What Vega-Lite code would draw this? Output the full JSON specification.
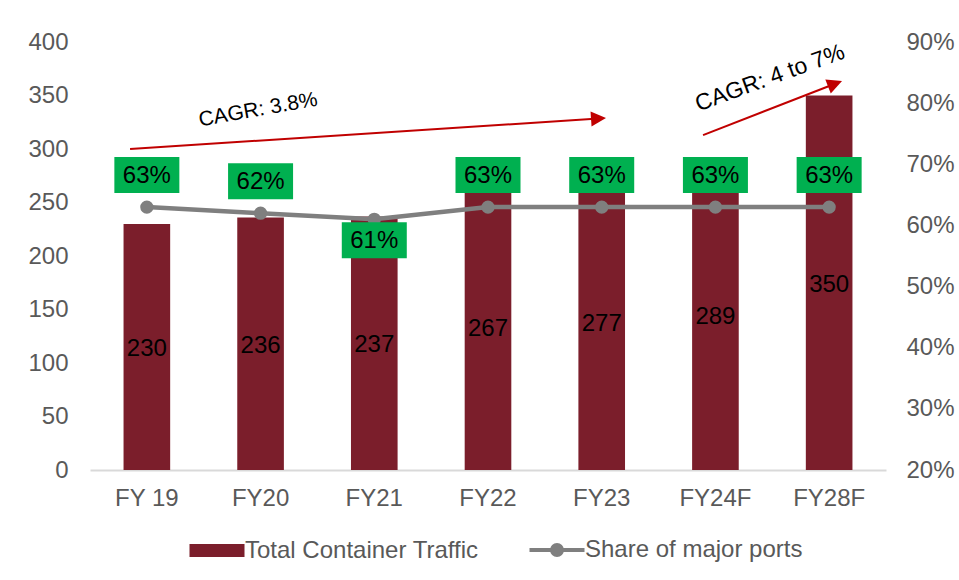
{
  "$schema": "https://vega.github.io/schema/vega-lite/v6.json",
  "width": 796,
  "height": 428,
  "autosize": {"type": "none"},
  "padding": {"left": 90, "top": 42, "right": 73, "bottom": 110},
  "background": "white",
  "config": {
    "font": "Liberation Sans",
    "view": {"stroke": null},
    "axis": {"grid": false, "ticks": false, "labelFontSize": 24, "labelColor": "#595959", "labelFont": "Liberation Sans"}
  },
  "datasets": {
    "main": [
      {"Year": "FY 19", "traffic": 230, "share": 0.63},
      {"Year": "FY20", "traffic": 236, "share": 0.62},
      {"Year": "FY21", "traffic": 237, "share": 0.61},
      {"Year": "FY22", "traffic": 267, "share": 0.63},
      {"Year": "FY23", "traffic": 277, "share": 0.63},
      {"Year": "FY24F", "traffic": 289, "share": 0.63},
      {"Year": "FY28F", "traffic": 350, "share": 0.63}
    ],
    "arrows": [
      {"arrow": "a1", "from": "FY 19", "to": "FY23", "y_from": 300, "y_to": 328.5},
      {"arrow": "a2", "from": "FY24F", "to": "FY28F", "y_from": 313, "y_to": 361}
    ],
    "notes": [
      {"note": "n1", "Year": "FY20", "pos": 336.4, "text": "CAGR: 3.8%"},
      {"note": "n2", "Year": "FY24F", "pos": 366.4, "text": "CAGR: 4 to 7%"}
    ]
  },
  "data": {"name": "main"},
  "resolve": {"scale": {"y": "independent"}},
  "layer": [
    {
      "layer": [
        {
          "mark": {"type": "bar"},
          "encoding": {
            "x": {"field": "Year", "type": "nominal", "title": null,
                  "scale": {"domain": ["FY 19", "FY20", "FY21", "FY22", "FY23", "FY24F", "FY28F"], "paddingInner": 0.59, "paddingOuter": 0.295},
                  "axis": {"labelAngle": 0, "domain": true, "domainColor": "#D9D9D9", "domainWidth": 2, "labelPadding": 16}},
            "y": {"field": "traffic", "type": "quantitative", "title": null,
                  "scale": {"domain": [0, 400]},
                  "axis": {"values": [0, 50, 100, 150, 200, 250, 300, 350, 400], "domain": false, "labelPadding": 22}},
            "color": {"datum": "Total Container Traffic",
                      "scale": {"domain": ["Total Container Traffic", "Share of major ports"], "range": ["#7B1E2B", "#7F7F7F"]},
                      "legend": {
                        "orient": "none", "legendX": 115, "legendY": 496, "direction": "horizontal", "title": null,
                        "labelFontSize": 24, "labelColor": "#595959", "labelFont": "Liberation Sans", "labelLimit": 0,
                        "symbolSize": 3025, "labelOffset": 16, "columnPadding": 42, "padding": 0,
                        "encode": {
                          "symbols": {
                            "update": {
                              "shape": {"signal": "datum.value === 'Share of major ports' ? 'M-1,0L1,0M0.18,0A0.18,0.18,0,1,1,-0.18,0A0.18,0.18,0,1,1,0.18,0Z' : 'M-1,-0.236L1,-0.236L1,0.236L-1,0.236Z'"},
                              "strokeWidth": {"signal": "datum.value === 'Share of major ports' ? 4 : 0"},
                              "fill": {"signal": "datum.value === 'Share of major ports' ? '#7F7F7F' : '#7B1E2B'"},
                              "stroke": {"value": "#7F7F7F"},
                              "opacity": {"value": 1},
                              "fillOpacity": {"value": 1},
                              "strokeOpacity": {"value": 1}
                            }
                          }
                        }
                      }}
          }
        },
        {
          "data": {"name": "arrows"},
          "transform": [{"filter": "datum.arrow == 'a1'"}],
          "mark": {"type": "rule", "color": "#C00000", "strokeWidth": 2, "xOffset": -16.8, "x2Offset": -3.2},
          "encoding": {
            "x": {"field": "from", "type": "nominal", "title": null},
            "x2": {"field": "to"},
            "y": {"field": "y_from", "type": "quantitative", "title": null},
            "y2": {"field": "y_to"}
          }
        },
        {
          "data": {"name": "arrows"},
          "transform": [{"filter": "datum.arrow == 'a2'"}],
          "mark": {"type": "rule", "color": "#C00000", "strokeWidth": 2, "xOffset": -12.4, "x2Offset": 5.9},
          "encoding": {
            "x": {"field": "from", "type": "nominal", "title": null},
            "x2": {"field": "to"},
            "y": {"field": "y_from", "type": "quantitative", "title": null},
            "y2": {"field": "y_to"}
          }
        },
        {
          "data": {"name": "arrows"},
          "transform": [{"filter": "datum.arrow == 'a1'"}],
          "mark": {"type": "point", "shape": "M1,0L-1,-1L-1,1Z", "size": 225, "filled": true, "color": "#C00000", "opacity": 1, "angle": 356.3, "xOffset": -3.2},
          "encoding": {
            "x": {"field": "to", "type": "nominal", "title": null},
            "y": {"field": "y_to", "type": "quantitative", "title": null}
          }
        },
        {
          "data": {"name": "arrows"},
          "transform": [{"filter": "datum.arrow == 'a2'"}],
          "mark": {"type": "point", "shape": "M1,0L-1,-1L-1,1Z", "size": 225, "filled": true, "color": "#C00000", "opacity": 1, "angle": 338.8, "xOffset": 5.9},
          "encoding": {
            "x": {"field": "to", "type": "nominal", "title": null},
            "y": {"field": "y_to", "type": "quantitative", "title": null}
          }
        },
        {
          "data": {"name": "notes"},
          "transform": [{"filter": "datum.note == 'n1'"}],
          "mark": {"type": "text", "fontSize": 21, "color": "#000000", "angle": 350, "align": "center", "baseline": "middle", "xOffset": -2.5},
          "encoding": {
            "x": {"field": "Year", "type": "nominal", "title": null},
            "y": {"field": "pos", "type": "quantitative", "title": null},
            "text": {"field": "text"}
          }
        },
        {
          "data": {"name": "notes"},
          "transform": [{"filter": "datum.note == 'n2'"}],
          "mark": {"type": "text", "fontSize": 23, "color": "#000000", "angle": 340, "align": "center", "baseline": "middle", "xOffset": 54.6},
          "encoding": {
            "x": {"field": "Year", "type": "nominal", "title": null},
            "y": {"field": "pos", "type": "quantitative", "title": null},
            "text": {"field": "text"}
          }
        }
      ]
    },
    {
      "mark": {"type": "text", "fontSize": 24, "color": "#000000", "baseline": "middle", "align": "center", "dy": 2},
      "encoding": {
        "x": {"field": "Year", "type": "nominal", "title": null},
        "y": {"field": "traffic", "type": "quantitative", "axis": null, "scale": {"domain": [0, 800]}},
        "text": {"field": "traffic"}
      }
    },
    {
      "layer": [
        {
          "mark": {"type": "line", "strokeWidth": 4.5},
          "encoding": {
            "x": {"field": "Year", "type": "nominal", "title": null},
            "y": {"field": "share", "type": "quantitative", "title": null,
                  "scale": {"domain": [0.2, 0.9]},
                  "axis": {"orient": "right", "values": [0.2, 0.3, 0.4, 0.5, 0.6, 0.7, 0.8, 0.9], "format": ".0%", "domain": false, "labelPadding": 20}},
            "color": {"datum": "Share of major ports", "legend": null}
          }
        },
        {
          "mark": {"type": "point", "filled": true, "size": 177, "color": "#7F7F7F", "opacity": 1},
          "encoding": {
            "x": {"field": "Year", "type": "nominal", "title": null},
            "y": {"field": "share", "type": "quantitative", "title": null}
          }
        },
        {
          "transform": [{"filter": "datum.Year != 'FY21'"}],
          "mark": {"type": "point", "shape": "M-1,-0.554L1,-0.554L1,0.554L-1,0.554Z", "size": 4225, "filled": true, "color": "#00B050", "opacity": 1, "strokeWidth": 0, "yOffset": -32},
          "encoding": {
            "x": {"field": "Year", "type": "nominal", "title": null},
            "y": {"field": "share", "type": "quantitative", "title": null}
          }
        },
        {
          "transform": [{"filter": "datum.Year == 'FY21'"}],
          "mark": {"type": "point", "shape": "M-1,-0.554L1,-0.554L1,0.554L-1,0.554Z", "size": 4225, "filled": true, "color": "#00B050", "opacity": 1, "strokeWidth": 0, "yOffset": 21},
          "encoding": {
            "x": {"field": "Year", "type": "nominal", "title": null},
            "y": {"field": "share", "type": "quantitative", "title": null}
          }
        },
        {
          "transform": [{"filter": "datum.Year != 'FY21'"}],
          "mark": {"type": "text", "fontSize": 24, "color": "#000000", "baseline": "middle", "align": "center", "yOffset": -31},
          "encoding": {
            "x": {"field": "Year", "type": "nominal", "title": null},
            "y": {"field": "share", "type": "quantitative", "title": null},
            "text": {"field": "share", "type": "quantitative", "format": ".0%"}
          }
        },
        {
          "transform": [{"filter": "datum.Year == 'FY21'"}],
          "mark": {"type": "text", "fontSize": 24, "color": "#000000", "baseline": "middle", "align": "center", "yOffset": 22},
          "encoding": {
            "x": {"field": "Year", "type": "nominal", "title": null},
            "y": {"field": "share", "type": "quantitative", "title": null},
            "text": {"field": "share", "type": "quantitative", "format": ".0%"}
          }
        }
      ]
    }
  ]
}
